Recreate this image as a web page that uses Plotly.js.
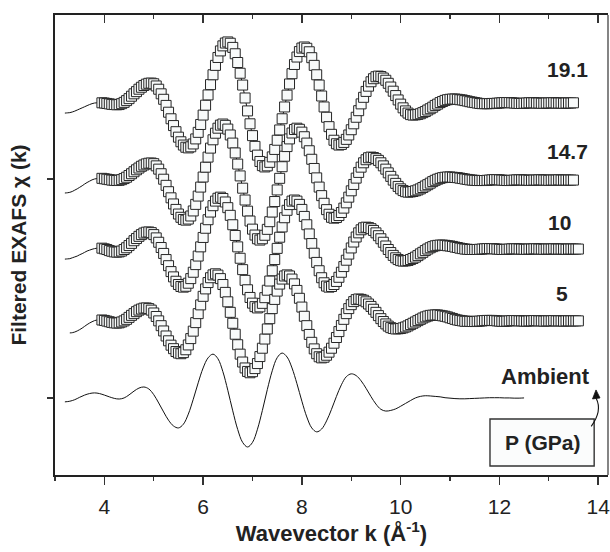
<!DOCTYPE html>
<html>
<head>
<meta charset="utf-8">
<script src="https://cdn.plot.ly/plotly-3.0.1.min.js"></script>
<style>html,body{margin:0;padding:0;background:#fff;}#chart{width:610px;height:552px;}</style>
</head>
<body>
<div id="chart"></div>
<script>
// ---- data ----
const kStep = 0.05;                       // sampling step of filtered EXAFS (1/Å)
const pressureLabels = ['19.1', '14.7', '10', '5'];
const kStart = [3.20, 3.20, 3.20, 3.30];  // first k of each fitted curve
const markerStartK = 3.95;                // data squares begin here
const offsets = [13.47, 9.95, 6.80, 3.52];// vertical stacking offsets

const chi19_1 = [
-0.46,-0.45,-0.44,-0.41,-0.37,-0.32,-0.27,-0.22,-0.17,-0.12,-0.07,-0.03,0.00,0.01,0.02,
0.01,0.00,-0.02,-0.04,-0.06,-0.07,-0.08,
-0.07,-0.03,0.03,0.11,0.20,0.31,0.42,0.52,0.63,0.72,0.80,0.86,0.90,0.91,
0.88,0.78,0.63,0.42,0.17,-0.11,-0.42,-0.72,-1.03,-1.31,-1.56,-1.77,-1.92,-2.02,-2.05,
-2.00,-1.87,-1.64,-1.34,-0.98,-0.55,-0.10,0.37,0.84,1.29,1.72,2.08,2.38,2.61,2.74,2.79,
2.73,2.54,2.25,1.85,1.36,0.82,0.23,-0.36,-0.95,-1.49,-1.98,-2.38,-2.67,-2.86,-2.92,
-2.87,-2.71,-2.46,-2.12,-1.70,-1.23,-0.72,-0.18,0.36,0.87,1.34,1.76,2.10,2.35,2.51,2.56,
2.50,2.34,2.07,1.72,1.29,0.82,0.32,-0.18,-0.65,-1.08,-1.43,-1.70,-1.86,-1.92,
-1.89,-1.80,-1.66,-1.46,-1.22,-0.95,-0.65,-0.35,-0.04,0.26,0.53,0.77,0.97,1.11,1.20,1.23,
1.21,1.14,1.04,0.90,0.73,0.54,0.34,0.14,-0.05,-0.22,-0.36,-0.46,-0.53,-0.55,
-0.54,-0.52,-0.49,-0.44,-0.39,-0.32,-0.26,-0.19,-0.11,-0.05,0.02,0.07,0.12,0.15,0.17,0.18,
0.18,0.17,0.15,0.14,0.11,0.09,0.06,0.04,0.02,0.00,-0.02,-0.03,-0.03,
-0.03,-0.03,-0.02,-0.02,-0.01,0,0.01,0.02,0.02,0.02,0.01,0,-0.01,-0.02,-0.02,-0.01,0,0.01,0.01,0.01,
0,0,-0.01,-0.01,0,0,0.01,0.01,0,0,0,-0.01,0,0,0,0.01
];
const chi14_7 = [
-0.59,-0.58,-0.56,-0.52,-0.46,-0.40,-0.33,-0.26,-0.18,-0.11,-0.05,0.01,0.05,0.07,0.08,
0.08,0.06,0.04,0.02,0.00,-0.01,-0.02,
-0.01,0.02,0.07,0.13,0.21,0.29,0.38,0.47,0.55,0.63,0.69,0.74,0.77,0.78,
0.75,0.65,0.50,0.29,0.04,-0.24,-0.53,-0.81,-1.09,-1.34,-1.55,-1.70,-1.80,-1.83,
-1.78,-1.64,-1.41,-1.11,-0.73,-0.32,0.14,0.59,1.05,1.46,1.84,2.14,2.37,2.51,2.56,
2.50,2.33,2.06,1.69,1.24,0.73,0.19,-0.37,-0.91,-1.42,-1.87,-2.24,-2.51,-2.68,-2.74,
-2.68,-2.52,-2.25,-1.90,-1.46,-0.98,-0.45,0.08,0.61,1.09,1.53,1.88,2.15,2.31,2.37,
2.32,2.19,1.98,1.69,1.34,0.95,0.53,0.10,-0.32,-0.71,-1.06,-1.35,-1.56,-1.70,-1.74,
-1.71,-1.62,-1.48,-1.28,-1.04,-0.78,-0.49,-0.20,0.09,0.35,0.59,0.79,0.93,1.02,1.05,
1.03,0.98,0.90,0.79,0.65,0.50,0.33,0.17,0.00,-0.15,-0.29,-0.40,-0.48,-0.53,-0.55,
-0.54,-0.52,-0.49,-0.45,-0.40,-0.34,-0.27,-0.21,-0.14,-0.07,-0.01,0.04,0.08,0.11,0.13,0.14,
0.14,0.13,0.12,0.11,0.09,0.07,0.05,0.03,0.01,0.00,-0.01,-0.02,-0.02,
-0.02,-0.02,-0.01,0,0.01,0.02,0.02,0.01,0,-0.01,-0.02,-0.02,-0.01,0,0.01,0.01,0.01,0,0,-0.01,
-0.01,0,0,0.01,0.01,0,0,-0.01,0,0,0,0.01,0,0,0,0,0,0
];
const chi10 = [
-0.46,-0.45,-0.44,-0.40,-0.36,-0.32,-0.26,-0.21,-0.15,-0.09,-0.05,-0.01,0.02,0.04,0.05,
0.04,0.01,-0.02,-0.07,-0.10,-0.13,-0.14,
-0.13,-0.09,-0.02,0.06,0.16,0.26,0.38,0.48,0.58,0.66,0.73,0.77,0.78,
0.75,0.66,0.51,0.31,0.07,-0.20,-0.48,-0.76,-1.03,-1.27,-1.47,-1.62,-1.71,-1.74,
-1.70,-1.56,-1.35,-1.06,-0.71,-0.32,0.10,0.53,0.95,1.34,1.69,1.98,2.19,2.32,2.37,
2.31,2.15,1.89,1.54,1.11,0.62,0.10,-0.42,-0.94,-1.43,-1.86,-2.21,-2.47,-2.63,-2.69,
-2.64,-2.48,-2.22,-1.88,-1.46,-0.99,-0.48,0.03,0.54,1.01,1.43,1.77,2.03,2.19,2.24,
2.19,2.04,1.81,1.49,1.11,0.69,0.25,-0.19,-0.61,-0.99,-1.31,-1.54,-1.69,-1.74,
-1.71,-1.62,-1.48,-1.29,-1.06,-0.80,-0.51,-0.23,0.05,0.32,0.55,0.74,0.88,0.97,1.00,
0.98,0.93,0.85,0.74,0.61,0.47,0.31,0.14,-0.02,-0.16,-0.29,-0.40,-0.48,-0.53,-0.55,
-0.54,-0.52,-0.48,-0.43,-0.37,-0.30,-0.22,-0.15,-0.07,0.00,0.06,0.11,0.15,0.17,0.18,
0.18,0.17,0.15,0.14,0.12,0.09,0.07,0.04,0.02,0.00,-0.01,-0.02,-0.02,
-0.02,-0.02,-0.01,0,0.01,0.02,0.02,0.02,0.01,0,-0.01,-0.02,-0.02,-0.01,0,0.01,0.01,0.01,0,0,
-0.01,-0.01,0,0,0.01,0.01,0,0,-0.01,0,0,0,0.01,0,0,0,0,-0.01,0,0,0,0,0
];
const chi5 = [
-0.55,-0.54,-0.51,-0.46,-0.40,-0.33,-0.25,-0.17,-0.10,-0.04,0.01,0.04,0.05,
0.04,0.02,-0.01,-0.04,-0.07,-0.09,-0.10,
-0.09,-0.05,0.00,0.07,0.16,0.25,0.33,0.42,0.49,0.54,0.58,0.59,
0.56,0.49,0.36,0.20,0.00,-0.22,-0.46,-0.69,-0.91,-1.11,-1.27,-1.40,-1.47,-1.50,
-1.45,-1.32,-1.10,-0.81,-0.47,-0.08,0.33,0.73,1.12,1.46,1.75,1.97,2.10,2.15,
2.09,1.93,1.66,1.30,0.87,0.39,-0.11,-0.61,-1.09,-1.52,-1.88,-2.15,-2.31,-2.37,
-2.32,-2.18,-1.95,-1.63,-1.25,-0.83,-0.37,0.10,0.56,0.98,1.36,1.68,1.91,2.05,2.10,
2.05,1.91,1.69,1.39,1.03,0.63,0.21,-0.22,-0.62,-0.98,-1.28,-1.50,-1.64,-1.69,
-1.66,-1.57,-1.43,-1.25,-1.02,-0.76,-0.49,-0.21,0.07,0.33,0.56,0.74,0.88,0.97,1.00,
0.98,0.94,0.87,0.77,0.66,0.53,0.39,0.24,0.10,-0.03,-0.14,-0.24,-0.31,-0.35,-0.37,
-0.36,-0.35,-0.32,-0.28,-0.23,-0.17,-0.11,-0.05,0.01,0.07,0.13,0.18,0.22,0.25,0.26,0.27,
0.27,0.25,0.23,0.21,0.18,0.14,0.11,0.07,0.04,0.02,0.00,-0.02,-0.02,
-0.02,-0.03,-0.03,-0.02,-0.01,0,0.01,0.02,0.02,0.02,0.01,0,-0.01,-0.02,-0.02,-0.01,0,0.01,0.01,0.01,
0,0,-0.01,-0.01,0,0,0.01,0.01,0,0,-0.01,0,0,0,0.01,0,0,0,-0.01,0,0,0,0,0,0
];
const pressureChi = [chi19_1, chi14_7, chi10, chi5];

const ambientK0 = 3.2;
const ambientStep = 0.1;
const chiAmbient = [
-0.18,-0.15,-0.08,0.03,0.13,0.20,0.23,
0.20,0.13,0.05,-0.02,-0.05,
0.00,0.14,0.31,0.45,0.50,
0.41,0.15,-0.23,-0.64,-1.02,-1.28,-1.37,
-1.20,-0.74,-0.06,0.69,1.37,1.83,2.00,
1.79,1.20,0.35,-0.59,-1.44,-2.03,-2.24,
-2.03,-1.43,-0.57,0.38,1.24,1.84,2.05,
1.87,1.37,0.65,-0.15,-0.87,-1.37,-1.55,
-1.42,-1.05,-0.52,0.07,0.60,0.97,1.10,
1.02,0.78,0.44,0.06,-0.28,-0.52,-0.60,
-0.57,-0.50,-0.38,-0.25,-0.12,0.00,0.07,0.10,
0.09,0.07,0.05,0.01,-0.01,-0.03,-0.04,
-0.04,-0.03,-0.02,-0.01,0.00,0.01,0.01,0.01,0.00,0.00,-0.01,-0.01,0.00
];

// ---- build traces ----
const FONT = 'Liberation Sans, Arial, Helvetica, sans-serif';
const lineTraces = [];
const markerTraces = [];
pressureChi.forEach((chi, c) => {
  const xs = chi.map((_, i) => +(kStart[c] + i * kStep).toFixed(3));
  const ys = chi.map(v => v + offsets[c]);
  lineTraces.push({
    x: xs, y: ys, type: 'scatter', mode: 'lines', name: pressureLabels[c] + ' GPa fit',
    line: {color: '#111', width: 1, shape: 'spline'}, hoverinfo: 'skip'
  });
  const mx = [], my = [];
  xs.forEach((k, i) => { if (k >= markerStartK - 1e-9) { mx.push(k); my.push(ys[i]); } });
  markerTraces.push({
    x: mx, y: my, type: 'scatter', mode: 'markers', name: pressureLabels[c] + ' GPa',
    marker: {symbol: 'square', size: 10, color: '#f8fafa', line: {color: '#262626', width: 1}}
  });
});
const ambientTrace = {
  x: chiAmbient.map((_, i) => +(ambientK0 + i * ambientStep).toFixed(2)),
  y: chiAmbient,
  type: 'scatter', mode: 'lines', name: 'Ambient',
  line: {color: '#111', width: 1, shape: 'spline'}
};
const topAxisTrace = {x: [null], y: [null], xaxis: 'x2', yaxis: 'y', type: 'scatter', mode: 'markers', hoverinfo: 'skip', showlegend: false};

const data = [ambientTrace, ...lineTraces, ...markerTraces, topAxisTrace];

const labelAnn = (text, x, y, size) => ({
  text: '<b>' + text + '</b>', x: x, y: y, xref: 'x', yref: 'y', showarrow: false,
  xanchor: 'center', yanchor: 'middle', font: {family: FONT, size: size, color: '#222'}
});

const layout = {
  width: 610, height: 552,
  margin: {l: 55, r: 2, t: 15, b: 77},
  paper_bgcolor: '#fff', plot_bgcolor: '#fff',
  showlegend: false,
  font: {family: FONT, color: '#222'},
  xaxis: {
    range: [3, 14.2], tick0: 0, dtick: 2, ticks: 'outside', ticklen: 8, tickwidth: 1.3, tickcolor: '#333',
    showline: true, linecolor: '#222', linewidth: 1.6, showgrid: false, zeroline: false,
    tickfont: {family: FONT, size: 21, color: '#222'}, ticklabelstandoff: 4, ticklabeloverflow: 'allow',
    minor: {dtick: 1, ticks: 'outside', ticklen: 4, tickwidth: 1.2, tickcolor: '#333', showgrid: false},
    title: {text: '<b>Wavevector k (Å<sup>-1</sup>)</b>', font: {family: FONT, size: 22, color: '#222'}, standoff: 8},
    automargin: false
  },
  xaxis2: {
    overlaying: 'x', side: 'top', range: [3, 14.2], tick0: 0, dtick: 2, ticks: 'inside', ticklen: 8,
    tickwidth: 1.3, tickcolor: '#333', showticklabels: false, showline: true, linecolor: '#222', linewidth: 1.6,
    showgrid: false, zeroline: false,
    minor: {dtick: 1, ticks: 'inside', ticklen: 4, tickwidth: 1.2, tickcolor: '#333', showgrid: false}
  },
  yaxis: {
    range: [-3.52, 17.49], tickvals: [0, 10], ticks: 'outside', ticklen: 6, tickwidth: 1.3, tickcolor: '#333',
    showticklabels: false, showline: true, linecolor: '#222', linewidth: 1.6, showgrid: false, zeroline: false,
    title: {text: '<b>Filtered EXAFS χ (k)</b>', font: {family: FONT, size: 21, color: '#222'}, standoff: 15},
    automargin: false
  },
  shapes: [
    {type: 'line', xref: 'paper', yref: 'paper', x0: 1, x1: 1, y0: 0, y1: 1, line: {color: '#666', width: 1.6}},
    {type: 'rect', xref: 'x', yref: 'y', x0: 11.81, x1: 13.92, y0: -3.11, y1: -0.96,
     line: {color: '#333', width: 1.4}, fillcolor: '#fbfcfc', layer: 'above'},
    {type: 'path', xref: 'x', yref: 'y', path: 'M 13.86,-1.30 Q 14.09,-0.60 13.96,-0.02',
     line: {color: '#111', width: 1.1}},
    {type: 'path', xref: 'x', yref: 'y', path: 'M 13.957,0.365 L 13.886,-0.046 L 14.038,0 Z',
     line: {color: '#111', width: 0.8}, fillcolor: '#111'}
  ],
  annotations: [
    labelAnn(pressureLabels[0], 13.38, 14.98, 21),
    labelAnn(pressureLabels[1], 13.37, 11.26, 21),
    labelAnn(pressureLabels[2], 13.22, 8.01, 21),
    labelAnn(pressureLabels[3], 13.27, 4.75, 21),
    labelAnn('Ambient', 12.94, 1.00, 22),
    labelAnn('P (GPa)', 12.87, -2.05, 21)
  ]
};

Plotly.newPlot('chart', data, layout, {displayModeBar: false, staticPlot: true});
</script>
</body>
</html>
